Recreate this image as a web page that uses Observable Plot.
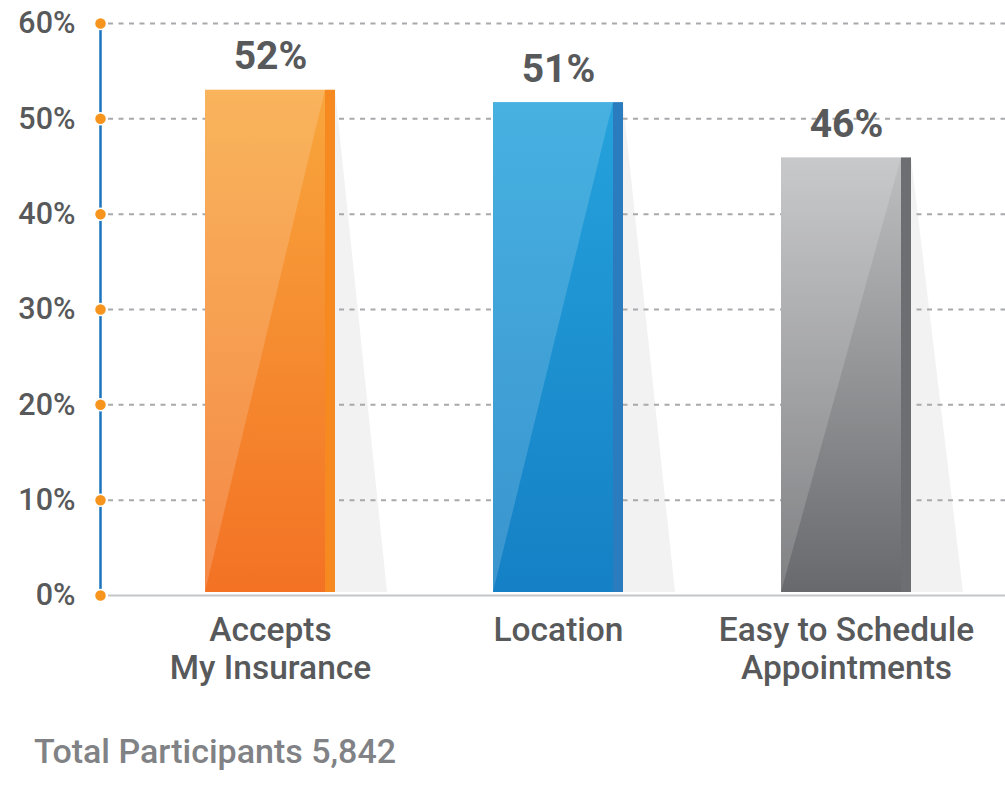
<!DOCTYPE html>
<html><head><meta charset="utf-8">
<script src="https://cdn.jsdelivr.net/npm/d3@7"></script>
<script src="https://cdn.jsdelivr.net/npm/@observablehq/plot@0.6"></script>
<style>
html,body{margin:0;padding:0;background:#fff;}
#wrap{position:relative;width:1005px;height:793px;font-family:Roboto, sans-serif;}
#chart svg{display:block;}
#caption{position:absolute;left:34px;top:731px;font-size:34px;font-weight:500;color:#808285;line-height:40px;white-space:nowrap;}
</style></head><body>
<div id="wrap"><div id="chart"></div><div id="caption">Total Participants 5,842</div></div>
<script>
// ---- data ----
const categories = ["Accepts My Insurance", "Location", "Easy to Schedule Appointments"];
const axisLabels = ["Accepts\nMy Insurance", "Location", "Easy to Schedule\nAppointments"];
const barValues = [53.0, 51.7, 45.9];          // bar heights as drawn (%)
const valueLabels = ["52%", "51%", "46%"];      // printed labels
const yTicks = [0, 10, 20, 30, 40, 50, 60];

// ---- styles ----
const topColors = ["#f8a63d", "#25a2dc", "#bebfc1"];
const bottomColors = ["#f37224", "#1580c5", "#68696c"];
const edgeColors = ["#f6891f", "#2b7cbf", "#6d6e71"];

const data = categories.map((c, i) => ({category: c, value: barValues[i], label: valueLabels[i]}));
const idx = d => categories.indexOf(d.category);

const plot = Plot.plot({
  width: 1005,
  height: 710,
  marginLeft: 108,
  marginRight: 0,
  marginTop: 23,
  marginBottom: 115,
  style: {fontFamily: "Roboto, sans-serif", color: "#58595b", background: "white", overflow: "visible"},
  x: {type: "band", domain: categories, range: [116.8, 998.2], paddingInner: 0.55, paddingOuter: 0.3},
  y: {domain: [0, 60]},
  color: {type: "identity"},
  marks: [
    Plot.barY(data, {x: "category", y: "value", fill: "#f2f2f2", ariaDescription: "shadow"}),
    Plot.ruleY(yTicks.filter(d => d > 0), {stroke: "#a7a9ac", strokeWidth: 2, strokeDasharray: "5,5.5"}),
    Plot.ruleY([0], {stroke: "#c4c5c7", strokeWidth: 2}),
    Plot.barY(data, {x: "category", y: "value", fill: d => `url(#grad${idx(d)})`, insetRight: 10, ariaDescription: "bar-main"}),
    Plot.barY(data, {x: "category", y: "value", fill: d => edgeColors[idx(d)], insetLeft: 120, ariaDescription: "bar-edge"}),
    Plot.text(data, {x: "category", y: "value", text: "label", dy: -21, lineAnchor: "bottom", fontSize: 39, fontWeight: 700, fill: "#58595b"}),
    Plot.frame({anchor: "left", stroke: "#1c75bc", strokeWidth: 2.5, dx: -8}),
    Plot.dot(yTicks, {y: d => d, frameAnchor: "left", dx: -8, r: 6, fill: "#f7941d", stroke: "white", strokeWidth: 1.5}),
    Plot.axisY({ticks: yTicks, tickFormat: d => d + "%", fontSize: 30.5, fontWeight: 500, tickSize: 0, tickPadding: 33, label: null}),
    Plot.axisX({tickFormat: d => axisLabels[categories.indexOf(d)], fontSize: 33.5, fontWeight: 500, lineHeight: 1.134, tickSize: 0, tickPadding: 19, label: null})
  ]
});

document.getElementById("chart").appendChild(plot);

// gradients & decorative shapes derived from the rendered bars
const svg = d3.select(plot);
const defs = svg.insert("defs", ":first-child");
categories.forEach((c, i) => {
  const g = defs.append("linearGradient").attr("id", "grad" + i)
    .attr("x1", 0).attr("y1", 0).attr("x2", 0).attr("y2", 1);
  g.append("stop").attr("offset", "0%").attr("stop-color", topColors[i]);
  g.append("stop").attr("offset", "100%").attr("stop-color", bottomColors[i]);
});

function box(el) {
  return {x: +el.getAttribute("x"), y: +el.getAttribute("y"), w: +el.getAttribute("width"), h: +el.getAttribute("height")};
}
function rectsOf(name) {
  const g = plot.querySelector(`g[aria-description="${name}"]`);
  return g ? Array.from(g.querySelectorAll("rect")) : [];
}
rectsOf("shadow").forEach(el => {
  const b = box(el);
  const xr = b.x + b.w;
  const poly = document.createElementNS("http://www.w3.org/2000/svg", "polygon");
  poly.setAttribute("points", `${xr},${b.y} ${xr},${b.y + b.h - 3} ${xr + 52},${b.y + b.h - 3}`);
  poly.setAttribute("fill", "#f2f2f2");
  el.parentNode.insertBefore(poly, el);
  el.remove();
});
rectsOf("bar-main").forEach(el => {
  const b = box(el);
  el.setAttribute("height", Math.max(0, b.h - 3));
  const poly = document.createElementNS("http://www.w3.org/2000/svg", "polygon");
  poly.setAttribute("points", `${b.x},${b.y} ${b.x + b.w},${b.y} ${b.x},${b.y + b.h - 3}`);
  poly.setAttribute("fill", "white");
  poly.setAttribute("fill-opacity", "0.16");
  el.parentNode.insertBefore(poly, el.nextSibling);
});
rectsOf("bar-edge").forEach(el => {
  const b = box(el);
  el.setAttribute("height", Math.max(0, b.h - 3));
});
</script>
</body></html>
